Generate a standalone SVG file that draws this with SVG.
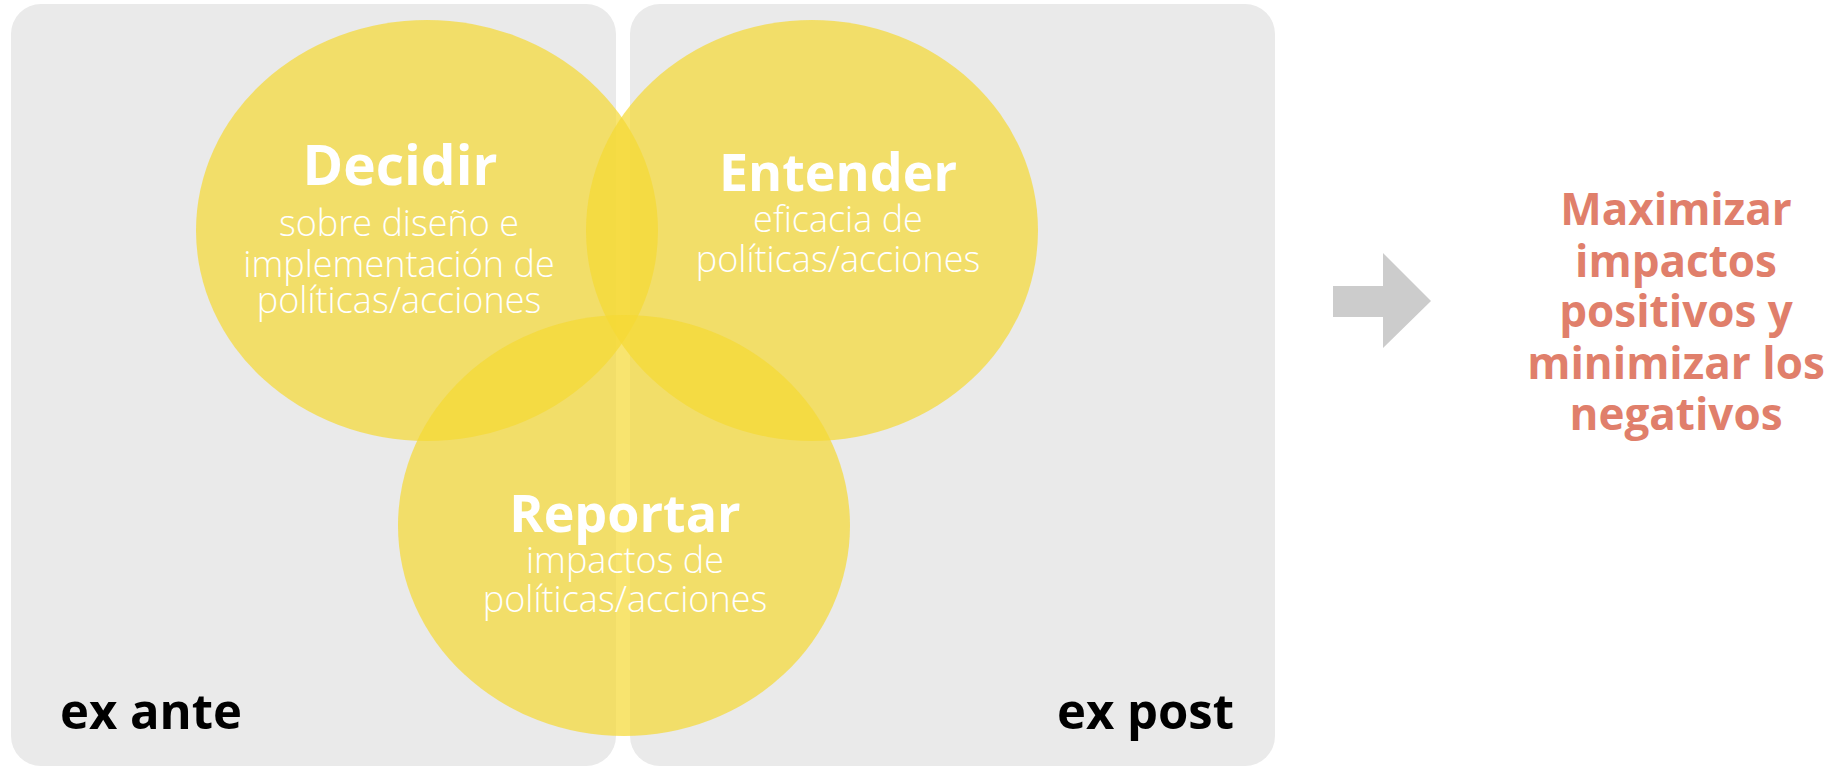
<svg xmlns="http://www.w3.org/2000/svg" width="1845" height="767" viewBox="0 0 1845 767">
  <style>
    .panel { fill: #EAEAEA; }
    .circle { fill: #F5D934; fill-opacity: 0.71; }
    .title { font-family: "Open Sans", "Liberation Sans", sans-serif; font-weight: 700; font-size: 52px; fill: #FFFFFF; text-anchor: middle; }
    .sub { font-family: "Open Sans", "Liberation Sans", sans-serif; font-weight: 300; font-size: 36px; fill: #FFFFFF; text-anchor: middle; }
    .phase { font-family: "Open Sans", "Liberation Sans", sans-serif; font-weight: 700; font-size: 49px; fill: #000000; }
    .goal { font-family: "Open Sans", "Liberation Sans", sans-serif; font-weight: 700; font-size: 44px; fill: #E07F6B; text-anchor: middle; }
    .arrow { fill: #CCCCCC; }
  </style>
  <rect width="1845" height="767" fill="#FFFFFF"/>
  <g id="panel-ex-ante">
    <rect class="panel" x="11" y="4" width="605" height="762" rx="30" ry="30"/>
    <text class="phase" x="60" y="729">ex ante</text>
  </g>
  <g id="panel-ex-post">
    <rect class="panel" x="630" y="4" width="645" height="762" rx="30" ry="30"/>
    <text class="phase" x="1234" y="729" text-anchor="end">ex post</text>
  </g>
  <g id="node-decidir">
    <ellipse class="circle" cx="427" cy="230.5" rx="231" ry="210.5"/>
  </g>
  <g id="node-entender">
    <ellipse class="circle" cx="812" cy="230.5" rx="226" ry="210.5"/>
  </g>
  <g id="node-reportar">
    <ellipse class="circle" cx="624" cy="525.5" rx="226" ry="210.5"/>
  </g>
  <g id="labels">
    <text class="title" x="400" y="185" style="font-size:55px">Decidir</text>
    <text class="sub" x="399" y="236">sobre diseño e</text>
    <text class="sub" x="399" y="277">implementación de</text>
    <text class="sub" x="399" y="313">políticas/acciones</text>
    <text class="title" x="838" y="191">Entender</text>
    <text class="sub" x="838" y="232">eficacia de</text>
    <text class="sub" x="838" y="272">políticas/acciones</text>
    <text class="title" x="625" y="532">Reportar</text>
    <text class="sub" x="625" y="573">impactos de</text>
    <text class="sub" x="625" y="612">políticas/acciones</text>
  </g>
  <g id="connectors">
    <polygon class="arrow" points="1333,286 1383,286 1383,253 1431,301 1383,348 1383,317 1333,317"/>
  </g>
  <g id="node-goal">
    <text class="goal" x="1676" y="225">Maximizar</text>
    <text class="goal" x="1676" y="277">impactos</text>
    <text class="goal" x="1676" y="327">positivos y</text>
    <text class="goal" x="1676" y="379">minimizar los</text>
    <text class="goal" x="1676" y="430">negativos</text>
  </g>
</svg>
